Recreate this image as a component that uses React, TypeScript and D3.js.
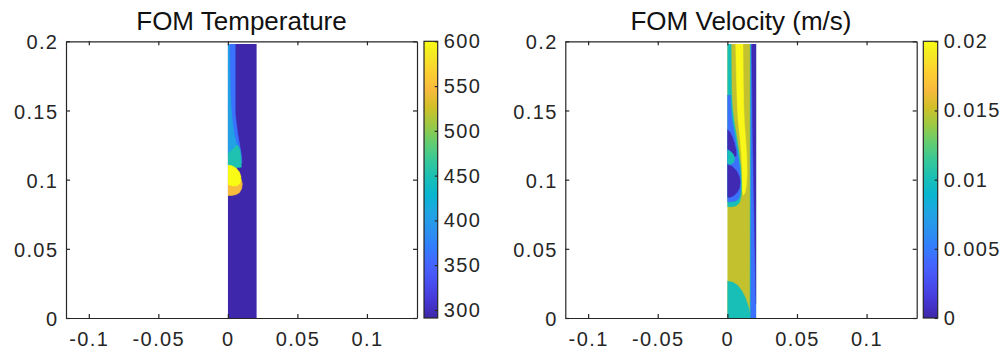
import React, { useEffect, useRef } from "react";
import * as d3 from "d3";

// axis limits / ticks
const xDomain = [-0.1164, 0.136];
const yDomain = [0, 0.2];
const xTicks = [-0.1, -0.05, 0, 0.05, 0.1];
const yTicks = [0, 0.05, 0.1, 0.15, 0.2];

// colour limits + colorbar ticks
const tempRange = [291, 600];
const tempTicks = [300, 350, 400, 450, 500, 550, 600];
const velRange = [0, 0.02];
const velTicks = [0, 0.005, 0.01, 0.015, 0.02];

// domain of the channel (m)
const stripX = [0, 0.0207];
const stripY = [0, 0.198];
const stripRect = [[stripX[0], stripY[0]], [stripX[1], stripY[0]], [stripX[1], stripY[1]], [stripX[0], stripY[1]]];

// parula samples
const parulaT = [0, 4, 8, 12, 16, 20, 24, 28, 32, 36, 40, 44, 48, 52, 56, 60, 63].map((i) => i / 63);
const parulaColors = ["#3e26a8", "#4537d5", "#484df0", "#4563fd", "#327cfc", "#2b91ef", "#20a5e3", "#08b5d0",
  "#19bfb6", "#37c897", "#64cd6f", "#9dc943", "#d1bf27", "#f8ba3d", "#fccf30", "#f5e924", "#f9fb15"];

// temperature contour regions (x, y)
const tempBlue = [[0, 0.198], [0.0053, 0.198], [0.0053, 0.148], [0.0062, 0.14], [0.0073, 0.132], [0.0085, 0.125],
  [0.0097, 0.118], [0.0101, 0.112], [0, 0.112]];
const tempLight = [[0, 0.198], [0.0012, 0.198], [0.0014, 0.18], [0.0018, 0.165], [0.0024, 0.152], [0.0033, 0.142],
  [0.0045, 0.133], [0.006, 0.127], [0.0078, 0.122], [0.0085, 0.118], [0, 0.118]];
const tempTeal = [[0, 0.119], [0.002, 0.1205], [0.004, 0.1225], [0.006, 0.1245], [0.0075, 0.1245], [0.0088, 0.121],
  [0.0095, 0.116], [0.0097, 0.109], [0, 0.108]];
const tempOrange = [[0, 0.104], [0.006, 0.104], [0.0095, 0.1005], [0.0104, 0.097], [0.0099, 0.0935], [0.0083, 0.0905],
  [0.006, 0.0892], [0.003, 0.0886], [0, 0.0886]];
const tempYellow = [[0, 0.1105], [0.003, 0.11], [0.006, 0.1083], [0.0083, 0.1055], [0.0094, 0.1022], [0.0093, 0.099],
  [0.0082, 0.0967], [0.006, 0.0955], [0.003, 0.0955], [0, 0.0965]];

const tempBands = [
  { v: 292, pts: stripRect },
  { v: 362, pts: tempBlue },
  { v: 405, pts: tempLight },
  { v: 452, pts: tempTeal },
  { v: 548, pts: tempOrange },
  { v: 600, pts: tempYellow },
];

// velocity contour regions
const velTealLeft = [[0, 0.198], [0.0027, 0.198], [0.0028, 0.18], [0.003, 0.165], [0.0036, 0.152], [0.0048, 0.142],
  [0.0065, 0.132], [0.0083, 0.12], [0.0097, 0.108], [0.0104, 0.097], [0.01, 0.089], [0.0088, 0.0835],
  [0.0065, 0.0812], [0.0035, 0.0805], [0, 0.0805]];
const velBlueLeft = [[0, 0.161], [0.0022, 0.161], [0.0026, 0.152], [0.0034, 0.143], [0.0046, 0.136], [0.006, 0.128],
  [0.0074, 0.119], [0.0088, 0.108], [0.0095, 0.099], [0.0093, 0.091], [0.0082, 0.0862], [0.006, 0.0845],
  [0.003, 0.084], [0, 0.084]];
const velDarkTop = [[0, 0.136], [0.0018, 0.1345], [0.0035, 0.131], [0.005, 0.1265], [0.0062, 0.1215], [0.0064, 0.1175],
  [0.0052, 0.1165], [0.0035, 0.1195], [0.0015, 0.1215], [0, 0.122]];
const velTealMid = [[0, 0.1215], [0.002, 0.1205], [0.0042, 0.1185], [0.0052, 0.1155], [0.0046, 0.1125],
  [0.0025, 0.1112], [0, 0.1112]];
const velDarkBig = [[0, 0.111], [0.0035, 0.1095], [0.0065, 0.1065], [0.0085, 0.1025], [0.0092, 0.0985],
  [0.0088, 0.0945], [0.0072, 0.091], [0.0048, 0.0885], [0.002, 0.0873], [0, 0.0872]];
const velYellow = [[0.006, 0.198], [0.0112, 0.198], [0.0114, 0.175], [0.0117, 0.155], [0.0122, 0.142], [0.0131, 0.13],
  [0.0139, 0.118], [0.0142, 0.106], [0.0138, 0.097], [0.0128, 0.091], [0.0115, 0.0885], [0.0108, 0.092],
  [0.0106, 0.1], [0.0106, 0.108], [0.0101, 0.118], [0.0091, 0.13], [0.0078, 0.142], [0.0071, 0.154],
  [0.0065, 0.175]];
const velTealBottom = [[0, 0], [0, 0.0265], [0.004, 0.0258], [0.0075, 0.0235], [0.0105, 0.0195], [0.013, 0.0145],
  [0.015, 0.0085], [0.0163, 0.003], [0.0166, 0]];
const velTealRight = [[0.0163, 0], [0.0207, 0], [0.0207, 0.198], [0.0165, 0.198]];
const velBlueRight = [[0.0169, 0], [0.0207, 0], [0.0207, 0.198], [0.0171, 0.198]];
const velDarkRight = [[0.0175, 0.198], [0.0207, 0.198], [0.0207, 0.01], [0.02, 0.04], [0.0192, 0.08], [0.0183, 0.13]];

const velBands = [
  { v: 0.0149, pts: stripRect },
  { v: 0.0101, pts: velTealLeft },
  { v: 0.0045, pts: velBlueLeft },
  { v: 0.0003, pts: velDarkTop },
  { v: 0.0101, pts: velTealMid },
  { v: 0.0003, pts: velDarkBig },
  { v: 0.0198, pts: velYellow },
  { v: 0.0101, pts: velTealBottom },
  { v: 0.0095, pts: velTealRight },
  { v: 0.0045, pts: velBlueRight },
  { v: 0.0003, pts: velDarkRight },
];

const panels = [
  { title: "FOM Temperature", left: 66, right: 417, cbLeft: 424, cbRight: 437.7, range: tempRange, cTicks: tempTicks, bands: tempBands },
  { title: "FOM Velocity (m/s)", left: 565.3, right: 916.7, cbLeft: 923.3, cbRight: 937.7, range: velRange, cTicks: velTicks, bands: velBands },
];

const FONT = "'Liberation Sans', Arial, sans-serif";
const INK = "#262626";

const App = () => {
  const svgRef = useRef<SVGSVGElement>(null);

  useEffect(() => {
    document.body.style.margin = "0";
    const svg = d3.select(svgRef.current);
    svg.selectAll("*").remove();
    const defs = svg.append("defs");

    const parula = d3.scaleLinear<string>().domain(parulaT).range(parulaColors)
      .interpolate(d3.interpolateRgb).clamp(true);
    const fmt = (d: any) => `${+(+d).toFixed(4)}`;
    const top = 41.3, bottom = 318;

    panels.forEach((p, i) => {
      const x = d3.scaleLinear().domain(xDomain).range([p.left, p.right]);
      const y = d3.scaleLinear().domain(yDomain).range([bottom, top]);
      const c = d3.scaleLinear().domain(p.range).range([0, 1]);
      const fill = (v: number) => parula(c(v));

      const g = svg.append("g");

      // field
      defs.append("clipPath").attr("id", `strip${i}`)
        .append("rect")
        .attr("x", x(stripX[0]))
        .attr("y", y(stripY[1]))
        .attr("width", x(stripX[1]) - x(stripX[0]))
        .attr("height", y(stripY[0]) - y(stripY[1]));

      const line = d3.line<number[]>().x((d) => x(d[0])).y((d) => y(d[1])).curve(d3.curveLinearClosed);
      g.append("g")
        .attr("clip-path", `url(#strip${i})`)
        .selectAll("path")
        .data(p.bands)
        .join("path")
        .attr("d", (d) => line(d.pts))
        .attr("fill", (d) => fill(d.v))
        .attr("stroke", (d) => fill(d.v))
        .attr("stroke-width", 0.5);

      // box with inward ticks on all sides
      const ax = g.append("g");
      ax.append("g").attr("transform", `translate(0,${bottom})`)
        .call(d3.axisBottom(x).tickValues(xTicks).tickSize(-4).tickSizeOuter(0).tickPadding(13.5).tickFormat(fmt));
      ax.append("g").attr("transform", `translate(0,${top})`)
        .call(d3.axisTop(x).tickValues(xTicks).tickSize(-4).tickSizeOuter(0).tickFormat(() => ""));
      const yl = ax.append("g").attr("transform", `translate(${p.left},0)`)
        .call(d3.axisLeft(y).tickValues(yTicks).tickSize(-4).tickSizeOuter(0).tickPadding(7.6).tickFormat(fmt));
      yl.selectAll("text").attr("dy", "0.38em");
      ax.append("g").attr("transform", `translate(${p.right},0)`)
        .call(d3.axisRight(y).tickValues(yTicks).tickSize(-4).tickSizeOuter(0).tickFormat(() => ""));

      // colorbar
      const cy = d3.scaleLinear().domain(p.range).range([bottom, top]);
      const grad = defs.append("linearGradient").attr("id", `grad${i}`)
        .attr("x1", 0).attr("y1", 1).attr("x2", 0).attr("y2", 0);
      d3.range(0, 64).forEach((k) => {
        grad.append("stop").attr("offset", k / 63).attr("stop-color", parula(k / 63));
      });
      g.append("rect")
        .attr("x", p.cbLeft)
        .attr("y", top)
        .attr("width", p.cbRight - p.cbLeft)
        .attr("height", bottom - top)
        .attr("fill", `url(#grad${i})`)
        .attr("stroke", INK)
        .attr("stroke-width", 1.2);
      const cb = g.append("g").attr("transform", `translate(${p.cbRight},0)`)
        .call(d3.axisRight(cy).tickValues(p.cTicks).tickSize(-3).tickSizeOuter(0).tickPadding(6).tickFormat(fmt));
      cb.select(".domain").remove();

      g.selectAll("path.domain, .tick line").attr("stroke", INK).attr("stroke-width", 1.2);
      g.selectAll(".tick text")
        .attr("fill", INK)
        .attr("font-family", FONT)
        .attr("font-size", 20)
        .attr("letter-spacing", 1.4);

      g.append("text")
        .attr("x", (p.left + p.right) / 2)
        .attr("y", 30)
        .attr("text-anchor", "middle")
        .attr("font-family", FONT)
        .attr("font-size", 26)
        .attr("fill", "#111")
        .text(p.title);
    });
  }, []);

  return <svg ref={svgRef} width={1003} height={358} style={{ display: "block", background: "#fff" }} />;
};

export default App;
